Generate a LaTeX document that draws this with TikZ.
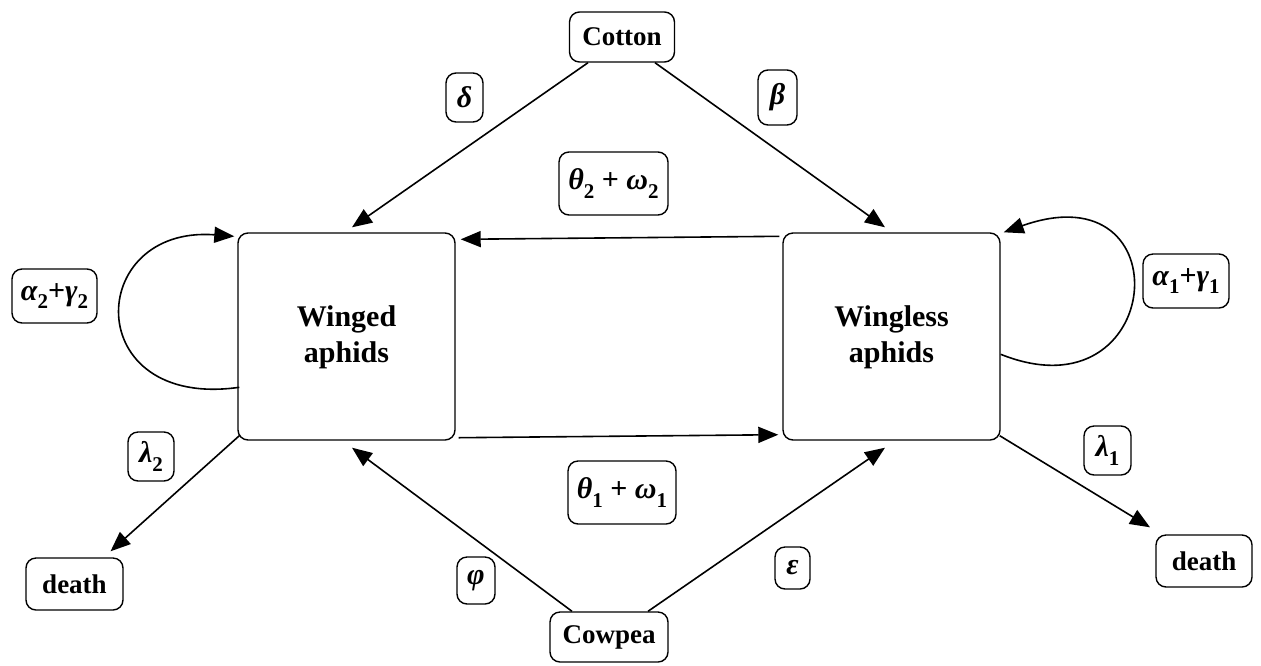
\documentclass[tikz,border=0pt]{standalone}
\usepackage{fontspec}
\setmainfont{Liberation Serif}
\usetikzlibrary{arrows.meta,calc}
\newcommand{\gk}[1]{{\bfseries\itshape #1}}
\newcommand{\gs}[2]{{\bfseries\itshape #1}\raisebox{-0.28em}{\fontsize{10.5}{10.5}\selectfont\bfseries #2}}
\begin{document}
\begin{tikzpicture}[x=0.5pt,y=-0.5pt,
  box/.style={draw,rounded corners=5pt,line width=0.7pt,align=center,inner sep=0pt,font=\fontsize{13.5}{16}\selectfont\bfseries},
  bigbox/.style={draw,rounded corners=5pt,line width=0.7pt,align=center,inner sep=0pt,minimum width=108.5pt,minimum height=103.5pt,font=\fontsize{15}{19}\selectfont\bfseries},
  lbl/.style={draw,rounded corners=5pt,line width=0.7pt,inner sep=0pt,font=\fontsize{15}{17}\selectfont},
  conn/.style={line width=0.8pt,-{Triangle[length=10pt,width=8pt]}}]
\useasboundingbox (0,0) rectangle (1261,665);
% main nodes
\node[box,minimum width=52.5pt,minimum height=25pt] (cotton) at (622,37) {Cotton};
\node[box,minimum width=59pt,minimum height=25pt] (cowpea) at (609,637) {Cowpea};
\node[bigbox] (winged) at (346.5,336.5) {\raisebox{-6pt}{\begin{tabular}{@{}c@{}}Winged\\[-1pt]aphids\end{tabular}}};
\node[bigbox] (wingless) at (891.5,336.5) {\raisebox{-6pt}{\begin{tabular}{@{}c@{}}Wingless\\[-1pt]aphids\end{tabular}}};
\node[box,minimum width=48.5pt,minimum height=26pt] (deathL) at (74.5,584) {death};
\node[box,minimum width=48pt,minimum height=26pt] (deathR) at (1204,561) {death};
% labels
\node[lbl,minimum width=18.5pt,minimum height=24.5pt] (ldelta) at (464.5,97.5) {\gk{δ}};
\node[lbl,minimum width=19.5pt,minimum height=27.5pt] (lbeta) at (777.5,97.5) {\gk{β}};
\node[lbl,minimum width=54.5pt,minimum height=31.5pt] (lt2) at (613.5,183.5) {\gs{θ}{2} \textbf{+} \gs{ω}{2}};
\node[lbl,minimum width=54pt,minimum height=31.5pt] (lt1) at (622,492.5) {\gs{θ}{1} \textbf{+} \gs{ω}{1}};
\node[lbl,minimum width=42.5pt,minimum height=27pt] (la2) at (54.5,296) {\gs{α}{2}\textbf{+}\gs{γ}{2}};
\node[lbl,minimum width=43pt,minimum height=27pt] (la1) at (1186,281) {\gs{α}{1}\textbf{+}\gs{γ}{1}};
\node[lbl,minimum width=23pt,minimum height=24.5pt] (ll2) at (151,456.5) {\gs{λ}{2}};
\node[lbl,minimum width=23.5pt,minimum height=24.5pt] (ll1) at (1107.5,450.5) {\gs{λ}{1}};
\node[lbl,minimum width=19pt,minimum height=23.5pt] (lphi) at (476,580.5) {\gk{φ}};
\node[lbl,minimum width=17.5pt,minimum height=21pt] (leps) at (792.5,568) {\gk{ε}};
% connectors
\draw[conn] ($(cotton.south)+(-34,0)$) -- ($(winged.north)+(5.5,-5)$);
\draw[conn] ($(cotton.south)+(33,0)$) -- ($(wingless.north)+(-6.5,-5)$);
\draw[conn] ($(cowpea.north)+(-37,0)$) -- ($(winged.south)+(5.5,7)$);
\draw[conn] ($(cowpea.north)+(39,0)$) -- ($(wingless.south)+(-6.5,7)$);
\draw[conn] ($(wingless.north west)+(-3,4)$) -- ($(winged.north east)+(5,7)$);
\draw[conn] ($(winged.south east)+(3,-3)$) -- ($(wingless.south west)+(-4,-6)$);
\draw[conn] ($(winged.south west)+(2,-5)$) -- ($(deathL.north)+(36,-6)$);
\draw[conn] ($(wingless.south east)+(-1,-5)$) -- ($(deathR.north)+(-54,-7)$);
\draw[conn] ($(winged.north west)+(2,155)$) .. controls (80,410) and (85,225) .. ($(winged.north west)+(-3,4)$);
\draw[conn] ($(wingless.north east)+(0,122)$) .. controls (1165,420) and (1185,168) .. ($(wingless.north east)+(3,0)$);
\end{tikzpicture}
\end{document}
